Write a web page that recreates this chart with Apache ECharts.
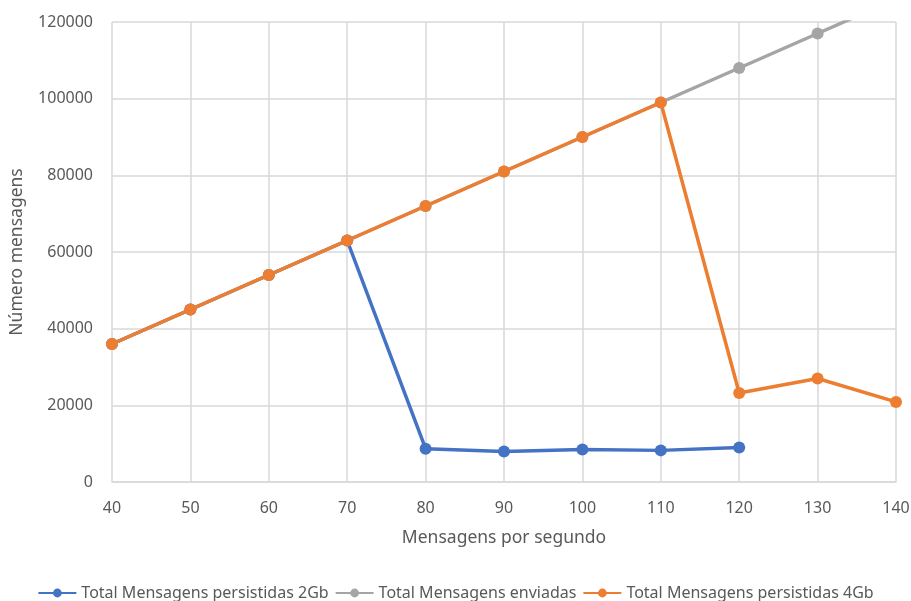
<!DOCTYPE html>
<html>
<head>
<meta charset="utf-8">
<script src="https://cdn.jsdelivr.net/npm/echarts@6/dist/echarts.min.js"></script>
<style>
  html, body { margin: 0; padding: 0; background: #fff; }
  #chart { width: 911px; height: 601px; }
</style>
</head>
<body>
<div id="chart"></div>
<script>
// dados
const mensagensPorSegundo = ['40', '50', '60', '70', '80', '90', '100', '110', '120', '130', '140'];
const persistidas2Gb = [36000, 45000, 54000, 63000, 8700, 7950, 8450, 8250, 9000, null, null];
const enviadas = [36000, 45000, 54000, 63000, 72000, 81000, 90000, 99000, 108000, 117000, 126000];
const persistidas4Gb = [36000, 45000, 54000, 63000, 72000, 81000, 90000, 99000, 23200, 27000, 20900];

const fonte = '"Noto Sans", sans-serif';
const cinzaTexto = '#595959';

const myChart = echarts.init(document.getElementById('chart'));

function serie(nome, dados, cor) {
  return {
    name: nome,
    type: 'line',
    data: dados,
    symbol: 'circle',
    symbolSize: 12,
    lineStyle: { width: 3.5, color: cor },
    itemStyle: { color: cor },
    clip: true,
    animation: false
  };
}

myChart.setOption({
  animation: false,
  grid: { left: 112, right: 15, top: 22, bottom: 119, containLabel: false, outerBoundsMode: 'none' },
  legend: {
    top: 580,
    left: 'center',
    itemWidth: 38,
    itemHeight: 11,
    itemGap: 6,
    textStyle: { fontFamily: fonte, fontSize: 16, color: cinzaTexto },
    data: ['Total Mensagens persistidas 2Gb', 'Total Mensagens enviadas', 'Total Mensagens persistidas 4Gb']
  },
  xAxis: {
    type: 'category',
    boundaryGap: false,
    data: mensagensPorSegundo,
    name: 'Mensagens por segundo',
    nameLocation: 'middle',
    nameGap: 47,
    nameTextStyle: { fontFamily: fonte, fontSize: 17.5, color: cinzaTexto },
    axisLine: { lineStyle: { color: '#d9d9d9', width: 1.5 } },
    axisTick: { show: false },
    axisLabel: { fontFamily: fonte, fontSize: 16, color: cinzaTexto, margin: 18 },
    splitLine: { show: true, lineStyle: { color: '#d9d9d9', width: 1.5 } }
  },
  yAxis: {
    type: 'value',
    min: 0,
    max: 120000,
    interval: 20000,
    name: 'Número mensagens',
    nameLocation: 'middle',
    nameGap: 86,
    nameTextStyle: { fontFamily: fonte, fontSize: 17.5, color: cinzaTexto },
    axisLine: { show: false },
    axisTick: { show: false },
    axisLabel: { fontFamily: fonte, fontSize: 16, color: cinzaTexto, margin: 19, formatter: v => String(v) },
    splitLine: { show: true, lineStyle: { color: '#d9d9d9', width: 1.5 } }
  },
  series: [
    serie('Total Mensagens persistidas 2Gb', persistidas2Gb, '#4472C4'),
    serie('Total Mensagens enviadas', enviadas, '#A5A5A5'),
    serie('Total Mensagens persistidas 4Gb', persistidas4Gb, '#ED7D31')
  ]
});
</script>
</body>
</html>
